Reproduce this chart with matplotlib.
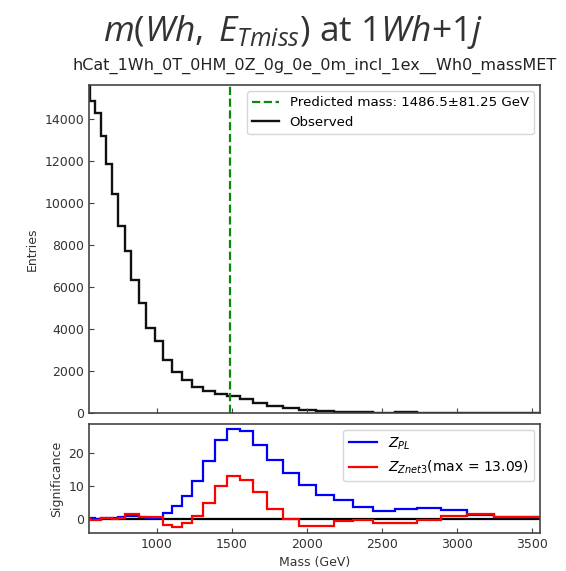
import matplotlib
matplotlib.use("Agg")
import matplotlib.pyplot as plt
import numpy as np

# ---- data ----
edges = [527, 558, 591, 625, 662, 700, 741, 785, 830, 879, 931, 985, 1042, 1103,
         1167, 1235, 1307, 1385, 1465, 1551, 1641, 1737, 1838, 1946, 2059, 2180,
         2307, 2442, 2585, 2736, 2896, 3065, 3245, 3435, 3636]
observed = [17000, 14850, 14290, 13170, 11820, 10400, 8890, 7700, 6320, 5240,
            4050, 3410, 2540, 1935, 1585, 1240, 1030, 920, 800, 650,
            470, 310, 235, 125, 75, 45, 30, 20, 60, 10,
            5, 5, 0, 0]
z_pl = [0.0, 0.2, 0.0, 0.1, 0.2, 0.2, 0.4, 0.7, 0.7, 0.4,
        0.3, 0.3, 1.7, 4.0, 7.0, 11.6, 17.8, 24.1, 27.6, 26.8,
        22.6, 18.0, 13.9, 10.4, 7.3, 5.8, 3.6, 2.5, 3.0, 3.3,
        2.7, 1.2, 0.5, 0.5]
z_znet3 = [0.0, -0.3, -0.3, 0.2, 0.2, 0.0, 0.2, 1.3, 1.3, 0.6,
           0.6, 0.6, -1.8, -2.5, -1.3, 0.7, 4.8, 10.1, 13.09, 11.9,
           8.3, 3.0, -0.1, -2.3, -2.3, -0.8, -0.3, -1.3, -1.3, -0.5,
           0.7, 1.4, 0.5, 0.5]
predicted_mass = 1486.5
predicted_err = 81.25
x_ticks = [1000, 1500, 2000, 2500, 3000, 3500]
y_ticks_top = [0, 2000, 4000, 6000, 8000, 10000, 12000, 14000]
y_ticks_bot = [0, 10, 20]

plt.rcParams['mathtext.rm'] = 'Open Sans'
plt.rcParams['mathtext.it'] = 'Open Sans:italic'

fig = plt.figure(figsize=(5.66, 5.71), dpi=100)
ax1 = fig.add_axes([0.1572, 0.2767, 0.7968, 0.5744])
ax2 = fig.add_axes([0.1572, 0.0665, 0.7968, 0.1909])

spine_col = '#444444'
for ax in (ax1, ax2):
    for s in ax.spines.values():
        s.set_color(spine_col)
        s.set_linewidth(1.2)
    ax.tick_params(direction='in', labelsize=9, color=spine_col, labelcolor='#333333')
    ax.set_xlim(548, 3553)
    ax.set_xticks(x_ticks)

# top panel
ax1.axvline(predicted_mass, color='#0a8a0a', ls='--', lw=1.6,
            label=f'Predicted mass: {predicted_mass}\u00b1{predicted_err} GeV')
ax1.stairs(observed, edges, color='#111111', lw=1.7, label='Observed')
ax1.set_ylim(0, 15600)
ax1.set_yticks(y_ticks_top)
ax1.set_xticklabels([])
ax1.set_ylabel('Entries', fontsize=9, color='#333333')
ax1.legend(loc='upper right', fontsize=9.6, borderaxespad=0.45)
ax1.set_title('hCat_1Wh_0T_0HM_0Z_0g_0e_0m_incl_1ex__Wh0_massMET', fontsize=11.5,
              color='#222222', pad=11)

# bottom panel
ax2.axhline(0, color='black', lw=1.6, zorder=1)
ax2.stairs(z_pl, edges, color='blue', lw=1.6, label=r'$Z_{PL}$', zorder=2)
ax2.stairs(z_znet3, edges, color='red', lw=1.6,
           label=r'$Z_{Znet3}$(max = %.2f)' % max(z_znet3), zorder=3)
ax2.set_ylim(-4.4, 29)
ax2.set_yticks(y_ticks_bot)
ax2.set_xlabel('Mass (GeV)', fontsize=9, color='#333333')
ax2.set_ylabel('Significance', fontsize=9, color='#333333')
ax2.legend(loc='upper right', fontsize=10, borderaxespad=0.4)

fig.text(0.518, 0.944, r'$m(Wh,\;E_{Tmiss})$ at $1Wh$+$1j$', ha='center', va='center',
         fontsize=25.5, color='#333333', math_fontfamily='custom', family='Open Sans')

fig.savefig('out.png', dpi=100)
